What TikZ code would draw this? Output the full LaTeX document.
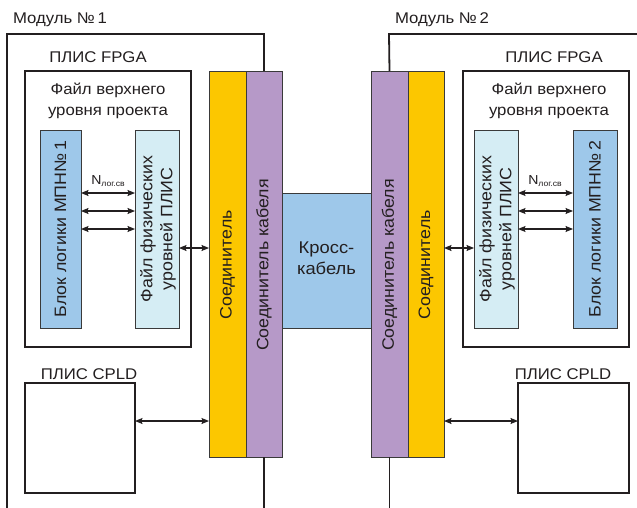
\documentclass[tikz,border=0pt]{standalone}
\usepackage{fontspec}
\setmainfont{Liberation Sans}[FakeStretch=1.08]
\usetikzlibrary{arrows.meta,fit}
\definecolor{txt}{HTML}{231F20}
\definecolor{cblue}{HTML}{9EC8EA}
\definecolor{ccyan}{HTML}{D5EDF4}
\definecolor{cyel}{HTML}{FCC700}
\definecolor{cpur}{HTML}{B699C8}
\definecolor{edgec}{HTML}{3A3A3A}
\begin{document}
\begin{tikzpicture}[x=1pt,y=-1pt,
  every node/.style={text=txt, inner sep=0pt, outer sep=0pt},
  blk/.style={draw=edgec, line width=0.8pt, inner sep=0pt, outer sep=0pt},
  frame/.style={draw=txt, line width=2.2pt, inner sep=0pt, outer sep=0pt},
  modline/.style={draw=txt, line width=1.8pt},
  dar/.style={draw=txt, line width=1.1pt, {Stealth[length=7.5pt,width=6pt,inset=1.2pt]}-{Stealth[length=7.5pt,width=6pt,inset=1.2pt]}},
  lbl/.style={font=\fontsize{15.5}{21.5}\selectfont, align=center},
  rlbl/.style={font=\fontsize{16.5}{20}\selectfont, rotate=90, align=center},
  nlbl/.style={font=\fontsize{13}{13}\selectfont}
]
\useasboundingbox (0,0) rectangle (637,508);
\fill[white] (0,0) rectangle (637,508);

% connectors and cable
\node[blk, fill=cyel, fit={(209,71) (246,457)}] (con1) {};
\node[blk, fill=cpur, fit={(246,71) (282,457)}] (cab1) {};
\node[blk, fill=cblue, fit={(282,193) (371,328)}] (cross) {};
\node[blk, fill=cpur, fit={(371,71) (408,457)}] (cab2) {};
\node[blk, fill=cyel, fit={(408,71) (444,457)}] (con2) {};

% module outlines
\coordinate (m1tr) at (264,34);
\coordinate (m1bl) at (7,508);
\coordinate (m2tl) at (389,34);
\coordinate (m2tr) at (637,34);
\draw[modline] (cab1.north) -- (m1tr) -| (m1bl);
\draw[modline] (cab1.south) -- (cab1.south |- m1bl);
\draw[modline] (cab2.north) -- (m2tl) -- (m2tr);
\draw[modline] (cab2.south) -- (cab2.south |- m1bl);

% FPGA boxes
\node[frame, fit={(25,71) (191,347)}] (fpga1) {};
\node[frame, fit={(463,71) (629,347)}] (fpga2) {};
\node[blk, fill=cblue, fit={(40,130) (81,328)}] (mpn1) {};
\node[blk, fill=ccyan, fit={(135,130) (179,328)}] (phy1) {};
\node[blk, fill=ccyan, fit={(474,130) (518,328)}] (phy2) {};
\node[blk, fill=cblue, fit={(573,130) (617,328)}] (mpn2) {};

% CPLD boxes
\node[frame, fit={(25,383) (135,493)}] (cpld1) {};
\node[frame, fit={(518,383) (629,493)}] (cpld2) {};

% labels
\node[lbl, anchor=base west] (t1) at (13,24) {Модуль №\,1};
\node[lbl, anchor=base west] (t2) at (395,24) {Модуль №\,2};
\node[lbl, anchor=base] (f1) at (98,63) {ПЛИС FPGA};
\node[lbl, anchor=base] (f2) at (554,63) {ПЛИС FPGA};
\node[lbl, anchor=base] (v1) at (108,116) {Файл верхнего\\уровня проекта};
\node[lbl, anchor=base] (v2) at (549,116) {Файл верхнего\\уровня проекта};
\node[lbl, anchor=base] (c1) at (89,379) {ПЛИС CPLD};
\node[lbl, anchor=base] (c2) at (563,379) {ПЛИС CPLD};

\node[rlbl] at (mpn1.center) {Блок логики МПН№\,1};
\node[rlbl] at (mpn2.center) {Блок логики МПН№\,2};
\node[rlbl] at ([xshift=1pt]phy1.center) {Файл физических\\уровней ПЛИС};
\node[rlbl] at ([xshift=1pt]phy2.center) {Файл физических\\уровней ПЛИС};
\node[rlbl] at (227.5,265) {Соединитель};
\node[rlbl] at (264,265) {Соединитель кабеля};
\node[rlbl] at (389.5,265) {Соединитель кабеля};
\node[rlbl] at (426,265) {Соединитель};
\node[font=\fontsize{17}{21}\selectfont, align=center] at ([yshift=2pt]cross.center) {Кросс-\\кабель};

\node[nlbl] (n1) at (108,181) {N\raisebox{-2.5pt}{\fontsize{8}{8}\selectfont лог.св}};
\node[nlbl] (n2) at (545,181) {N\raisebox{-2.5pt}{\fontsize{8}{8}\selectfont лог.св}};

% arrows
\foreach \yy in {193,211,229}{
  \draw[dar] (mpn1.east |- 0,\yy) -- (phy1.west |- 0,\yy);
  \draw[dar] (phy2.east |- 0,\yy) -- (mpn2.west |- 0,\yy);
}
\draw[dar] (phy1.east |- 0,248) -- (con1.west |- 0,248);
\draw[dar] (con2.east |- 0,248) -- (phy2.west |- 0,248);
\draw[dar] (cpld1.east |- 0,421) -- (con1.west |- 0,421);
\draw[dar] (con2.east |- 0,421) -- (cpld2.west |- 0,421);
\end{tikzpicture}
\end{document}
